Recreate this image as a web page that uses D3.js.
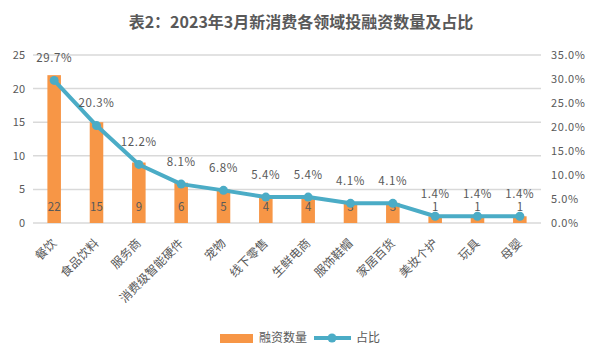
<!DOCTYPE html>
<html>
<head>
<meta charset="utf-8">
<script src="https://cdn.jsdelivr.net/npm/d3@7"></script>
<style>
  body { margin: 0; background: #fff; }
  svg text { font-family: "Noto Sans CJK SC", "Noto Sans", sans-serif; fill: #595959; }
</style>
</head>
<body>
<svg width="601" height="361"></svg>
<script>
const categories = ['餐饮', '食品饮料', '服务商', '消费级智能硬件', '宠物', '线下零售', '生鲜电商', '服饰鞋帽', '家居百货', '美妆个护', '玩具', '母婴'];
const counts = [22, 15, 9, 6, 5, 4, 4, 3, 3, 1, 1, 1];
const shares = [29.7, 20.3, 12.2, 8.1, 6.8, 5.4, 5.4, 4.1, 4.1, 1.4, 1.4, 1.4];
const leftTicks = [0, 5, 10, 15, 20, 25];
const rightTicks = [0, 5, 10, 15, 20, 25, 30, 35];

const svg = d3.select('svg');
const plotLeft = 33, plotRight = 541, plotTop = 55, plotBottom = 223;

const x = d3.scaleBand().domain(categories).range([plotLeft, plotRight]).paddingInner(0.68).paddingOuter(0.34);
const y = d3.scaleLinear().domain([0, 25]).range([plotBottom, plotTop]);
const y2 = d3.scaleLinear().domain([0, 35]).range([plotBottom, plotTop]);

// title
svg.append('text')
    .attr('x', 301).attr('y', 27.5)
    .attr('text-anchor', 'middle')
    .style('font-size', '16px').style('font-weight', 'bold')
    .text('表2：2023年3月新消费各领域投融资数量及占比');

// gridlines
svg.append('g').selectAll('line').data(leftTicks).enter().append('line')
    .attr('x1', plotLeft).attr('x2', plotRight)
    .attr('y1', d => y(d)).attr('y2', d => y(d))
    .attr('stroke', '#d9d9d9').attr('stroke-width', 1.5);

// left axis
const yAxis = svg.append('g').attr('transform', `translate(${plotLeft},0)`)
    .call(d3.axisLeft(y).tickValues(leftTicks).tickSize(0).tickPadding(8));
yAxis.select('.domain').remove();
yAxis.selectAll('text').style('font-size', '11px').style('font-family', '"Noto Sans CJK SC", sans-serif').attr('fill', '#595959');

// right axis
const yAxis2 = svg.append('g').attr('transform', `translate(${plotRight},0)`)
    .call(d3.axisRight(y2).tickValues(rightTicks).tickSize(0).tickPadding(10).tickFormat(d => d.toFixed(1) + '%'));
yAxis2.select('.domain').remove();
yAxis2.selectAll('text').style('font-size', '11px').style('letter-spacing', '0.6px')
    .style('font-family', '"Noto Sans CJK SC", sans-serif').attr('fill', '#595959');

// bars
svg.append('g').selectAll('rect').data(counts).enter().append('rect')
    .attr('x', (d, i) => x(categories[i]))
    .attr('width', x.bandwidth())
    .attr('y', d => y(d))
    .attr('height', d => plotBottom - y(d))
    .attr('fill', '#f79646');

// bar labels
svg.append('g').selectAll('text').data(counts).enter().append('text')
    .attr('x', (d, i) => x(categories[i]) + x.bandwidth() / 2)
    .attr('y', plotBottom - 12.5)
    .attr('text-anchor', 'middle')
    .style('font-size', '11.5px')
    .text(d => d);

// line
const cx = i => x(categories[i]) + x.bandwidth() / 2;
const line = d3.line().x((d, i) => cx(i)).y(d => y2(d));
svg.append('path').datum(shares)
    .attr('d', line)
    .attr('fill', 'none').attr('stroke', '#4bacc6').attr('stroke-width', 4)
    .attr('stroke-linejoin', 'round');
svg.append('g').selectAll('circle').data(shares).enter().append('circle')
    .attr('cx', (d, i) => cx(i)).attr('cy', d => y2(d)).attr('r', 4.5)
    .attr('fill', '#4bacc6');

// share labels
svg.append('g').selectAll('text').data(shares).enter().append('text')
    .attr('x', (d, i) => cx(i))
    .attr('y', d => y2(d) - 18.5)
    .attr('text-anchor', 'middle')
    .style('font-size', '11.5px').style('letter-spacing', '0.6px')
    .text(d => d.toFixed(1) + '%');

// category labels
svg.append('g').selectAll('text').data(categories).enter().append('text')
    .attr('transform', (d, i) => `translate(${cx(i)},${plotBottom + 18}) rotate(-45)`)
    .attr('text-anchor', 'end')
    .attr('dy', '0.35em')
    .style('font-size', '12px')
    .text(d => d);

// legend
const lg = svg.append('g');
lg.append('rect').attr('x', 220).attr('y', 334).attr('width', 33).attr('height', 9).attr('fill', '#f79646');
lg.append('text').attr('x', 259).attr('y', 338).attr('dy', '0.35em').style('font-size', '12px').text('融资数量');
lg.append('line').attr('x1', 314).attr('x2', 351).attr('y1', 338).attr('y2', 338)
    .attr('stroke', '#4bacc6').attr('stroke-width', 4);
lg.append('circle').attr('cx', 332).attr('cy', 338).attr('r', 4.5).attr('fill', '#4bacc6');
lg.append('text').attr('x', 356).attr('y', 338).attr('dy', '0.35em').style('font-size', '12px').text('占比');
</script>
</body>
</html>
